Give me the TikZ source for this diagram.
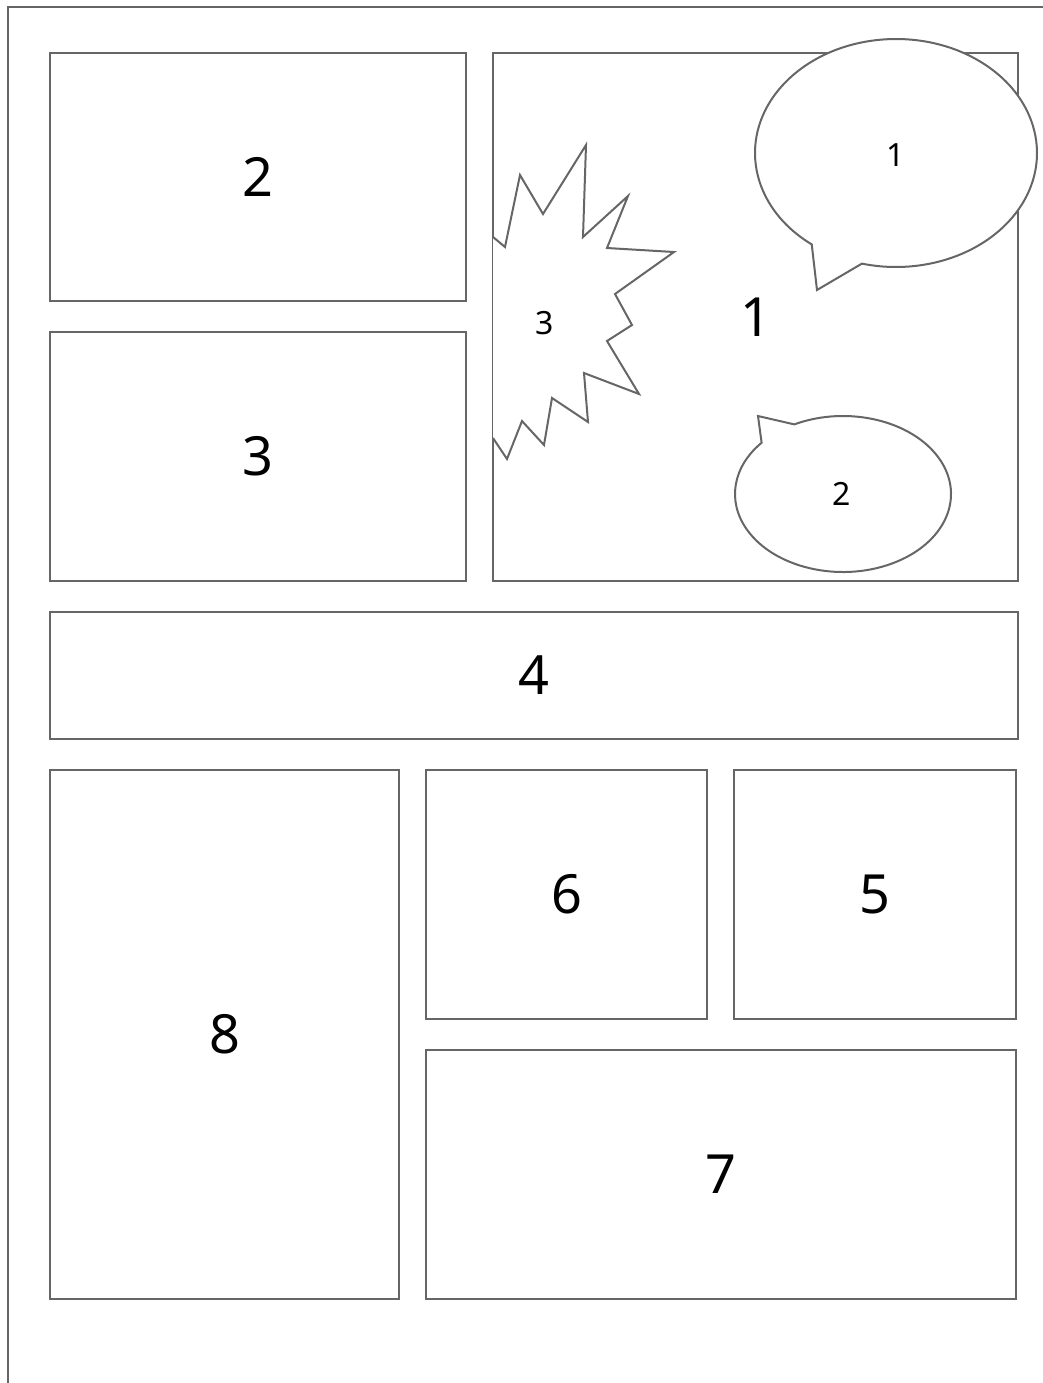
\documentclass[tikz,border=0pt]{standalone}
\usepackage{fontspec}
\setmainfont{Noto Sans}
\usetikzlibrary{calc}
\definecolor{inkgray}{RGB}{102,102,102}

\begin{document}
\begin{tikzpicture}[x=0.5pt, y=-0.5pt,
  panel/.style={draw=inkgray, line width=1pt, rectangle, inner sep=0pt, outer sep=0pt, font=\fontsize{27}{30}\selectfont},
  balloon/.style={draw=inkgray, line width=1pt, fill=white, line join=miter},
  smalltext/.style={font=\fontsize{16}{18}\selectfont}]
  \useasboundingbox (0,0) rectangle (1043,1383);

  % Page edge
  \coordinate (pagebl) at (8,1383);
  \coordinate (pagetl) at (8,7);
  \coordinate (pagetr) at (1043,7);
  \draw[inkgray, line width=1pt] (pagebl) -- (pagetl) -- (pagetr);

  % Top rows
  \node[panel, minimum width=208pt, minimum height=124pt] (p2) at (258,177) {2};
  \node[panel, minimum width=208pt, minimum height=124.5pt] (p3) at (258,456.5) {3};
  \node[panel, minimum width=262.5pt, minimum height=264pt] (p1) at (755.5,317) {1};

  % Wide strip
  \node[panel, minimum width=484pt, minimum height=63.5pt] (p4) at (534,675.5) {4};

  % Bottom block
  \node[panel, minimum width=174.5pt, minimum height=264.5pt] (p8) at (224.5,1034.5) {8};
  \node[panel, minimum width=140.5pt, minimum height=124.5pt] (p6) at (566.5,894.5) {6};
  \node[panel, minimum width=141pt, minimum height=124.5pt] (p5) at (875,894.5) {5};
  \node[panel, minimum width=295pt, minimum height=124.5pt] (p7) at (721,1174.5) {7};

  % Burst (cut by the panel edge)
  \draw[balloon] (493,237) -- (505,247) -- (520,175) -- (543,214) -- (586,145)
    -- (583,237) -- (628,196) -- (607,248) -- (674,252) -- (615,294)
    -- (632,325) -- (607,341) -- (639,394) -- (584,373) -- (588,422)
    -- (552,398) -- (544,445) -- (522,421) -- (507,459) -- (493,438);
  \node[smalltext] (s3) at (545,323) {3};

  % Speech balloon 1
  \coordinate (b1c) at (896,153);
  \coordinate (b1tip) at (817,290);
  \draw[balloon] ($(b1c)+(126.7:141 and 114)$)
    arc[start angle=126.7, end angle=464, x radius=141, y radius=114]
    -- (b1tip) -- cycle;
  \node[smalltext] (s1) at (896,155) {1};

  % Speech balloon 2
  \coordinate (b2c) at (843,494);
  \coordinate (b2tip) at (758,416);
  \draw[balloon] ($(b2c)+(243.2:108 and 78)$)
    arc[start angle=243.2, end angle=581.1, x radius=108, y radius=78]
    -- (b2tip) -- cycle;
  \node[smalltext] (s2) at (842,494) {2};
\end{tikzpicture}
\end{document}
